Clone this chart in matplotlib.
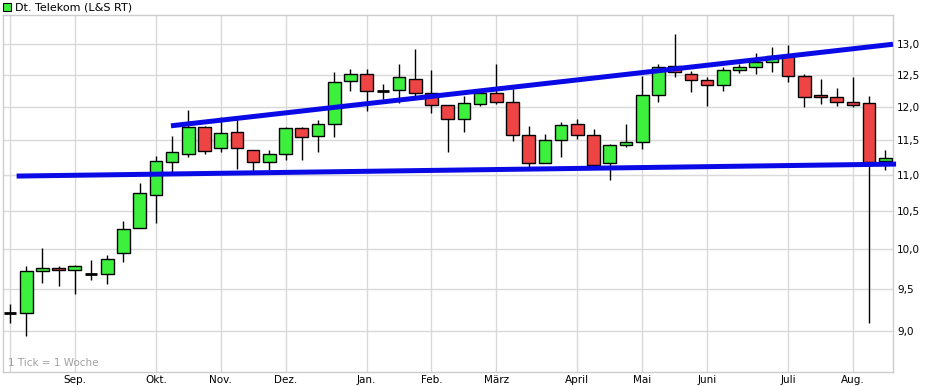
import matplotlib.pyplot as plt
import numpy as np
from matplotlib.ticker import FixedLocator, FuncFormatter, NullLocator

# weekly candles, Dt. Telekom (L&S RT)
opens = [9.21, 9.21, 9.72, 9.76, 9.74, 9.68, 9.69, 9.95, 10.28, 10.72,
         11.18, 11.30, 11.69, 11.38, 11.62, 11.35, 11.18, 11.30, 11.67, 11.56,
         11.74, 12.40, 12.51, 12.25, 12.26, 12.44, 12.22, 12.02, 11.82, 12.04,
         12.22, 12.08, 11.58, 11.17, 11.50, 11.74, 11.58, 11.17, 11.42, 11.47,
         12.18, 12.65, 12.52, 12.42, 12.34, 12.57, 12.62, 12.70, 12.81, 12.48,
         12.18, 12.15, 12.08, 12.06, 11.19]
highs = [9.32, 9.79, 10.01, 9.79, 9.80, 9.86, 9.92, 10.37, 10.88, 11.27,
         11.56, 11.95, 11.70, 11.85, 11.80, 11.35, 11.35, 11.69, 11.69, 11.80,
         12.55, 12.59, 12.59, 12.36, 12.67, 12.92, 12.58, 12.02, 12.16, 12.21,
         12.67, 12.27, 11.71, 11.59, 11.76, 11.82, 11.66, 11.44, 11.74, 12.48,
         12.67, 13.17, 12.56, 12.47, 12.63, 12.67, 12.86, 12.95, 12.98, 12.51,
         12.44, 12.29, 12.47, 12.16, 11.36]
lows = [9.10, 8.95, 9.58, 9.54, 9.44, 9.61, 9.56, 9.84, 10.28, 10.34,
        11.04, 11.25, 11.30, 11.33, 11.08, 11.05, 11.07, 11.21, 11.21, 11.33,
        11.54, 12.24, 11.93, 12.12, 12.05, 12.16, 11.91, 11.33, 11.62, 12.01,
        12.04, 11.49, 11.11, 11.17, 11.25, 11.52, 11.13, 10.93, 11.40, 11.37,
        12.08, 12.47, 12.23, 12.01, 12.25, 12.53, 12.51, 12.55, 12.38, 11.99,
        12.04, 12.01, 12.00, 9.10, 11.06]
closes = [9.21, 9.72, 9.76, 9.74, 9.78, 9.68, 9.87, 10.26, 10.74, 11.20,
          11.32, 11.69, 11.34, 11.61, 11.38, 11.18, 11.30, 11.67, 11.55, 11.74,
          12.38, 12.51, 12.24, 12.25, 12.46, 12.22, 12.02, 11.82, 12.05, 12.21,
          12.08, 11.58, 11.17, 11.50, 11.72, 11.58, 11.13, 11.42, 11.47, 12.18,
          12.63, 12.55, 12.42, 12.34, 12.58, 12.62, 12.70, 12.81, 12.48, 12.15,
          12.15, 12.08, 12.02, 11.18, 11.23]

month_weeks = [0, 4, 9, 13, 17, 22, 26, 30, 35, 39, 43, 48, 52]
month_labels = ['', 'Sep.', 'Okt.', 'Nov.', 'Dez.', 'Jan.', 'Feb.', 'März',
                'April', 'Mai', 'Juni', 'Juli', 'Aug.']
price_ticks = [9.0, 9.5, 10.0, 10.5, 11.0, 11.5, 12.0, 12.5, 13.0]

# trend lines drawn on the chart (week index, price)
support_x = [0.41, 54.66]
support_y = [10.98, 11.15]
resist_x = [9.93, 54.47]
resist_y = [11.71, 13.0]

GREEN = '#3ef03e'
RED = '#ee4444'
BLUE = '#0a0ae6'

fig = plt.figure(figsize=(9.32, 3.86), dpi=100)
ax = fig.add_axes([3 / 932, 1 - 372 / 386, 890 / 932, 357 / 386])

o = np.array(opens)
h = np.array(highs)
l = np.array(lows)
c = np.array(closes)
x = np.arange(len(o))

ax.set_yscale('log')

# wicks
ax.vlines(x, l, h, color='black', linewidth=1.0, zorder=3)

# bodies
doji = o == c
up = (c > o)
down = (c < o)
w = 0.78
ax.bar(x[up], (c - o)[up], bottom=o[up], width=w, color=GREEN,
       edgecolor='black', linewidth=1.0, zorder=4)
ax.bar(x[down], (o - c)[down], bottom=c[down], width=w, color=RED,
       edgecolor='black', linewidth=1.0, zorder=4)
ax.hlines(o[doji], x[doji] - w / 2, x[doji] + w / 2, color='black',
          linewidth=2, zorder=4)

# trend lines
ax.plot(support_x, support_y, color=BLUE, linewidth=3.6, solid_capstyle='butt',
        zorder=5, clip_on=False)
ax.plot(resist_x, resist_y, color=BLUE, linewidth=3.6, solid_capstyle='butt',
        zorder=5, clip_on=False)

ax.set_xlim(-0.43, 54.47)
ax.set_ylim(8.543, 13.496)

ax.yaxis.set_major_locator(FixedLocator(price_ticks))
ax.yaxis.set_minor_locator(NullLocator())
ax.yaxis.set_major_formatter(FuncFormatter(lambda v, p: f'{v:.1f}'.replace('.', ',')))
ax.yaxis.tick_right()
ax.set_xticks(month_weeks)
ax.set_xticklabels(month_labels)
ax.tick_params(axis='both', length=0, labelsize=7.5, colors='black')
ax.tick_params(axis='y', pad=3)
ax.tick_params(axis='x', pad=2)

ax.grid(True, color='#d9d9d9', linewidth=1)
ax.set_axisbelow(True)
for s in ax.spines.values():
    s.set_color('#cccccc')
    s.set_linewidth(1)

ax.text(0.006, 0.012, '1 Tick = 1 Woche', transform=ax.transAxes,
        fontsize=7.5, color='#a0a0a0', va='bottom', ha='left')

# legend box at top left
fig.patches.append(plt.Rectangle((3 / 932, 1 - 11 / 386), 8 / 932, 8 / 386,
                                 transform=fig.transFigure, facecolor=GREEN,
                                 edgecolor='black', linewidth=0.8))
fig.text(15 / 932, 1 - 7 / 386, 'Dt. Telekom (L&S RT)', fontsize=8,
         va='center', ha='left')

fig.savefig('out.png', dpi=100)
